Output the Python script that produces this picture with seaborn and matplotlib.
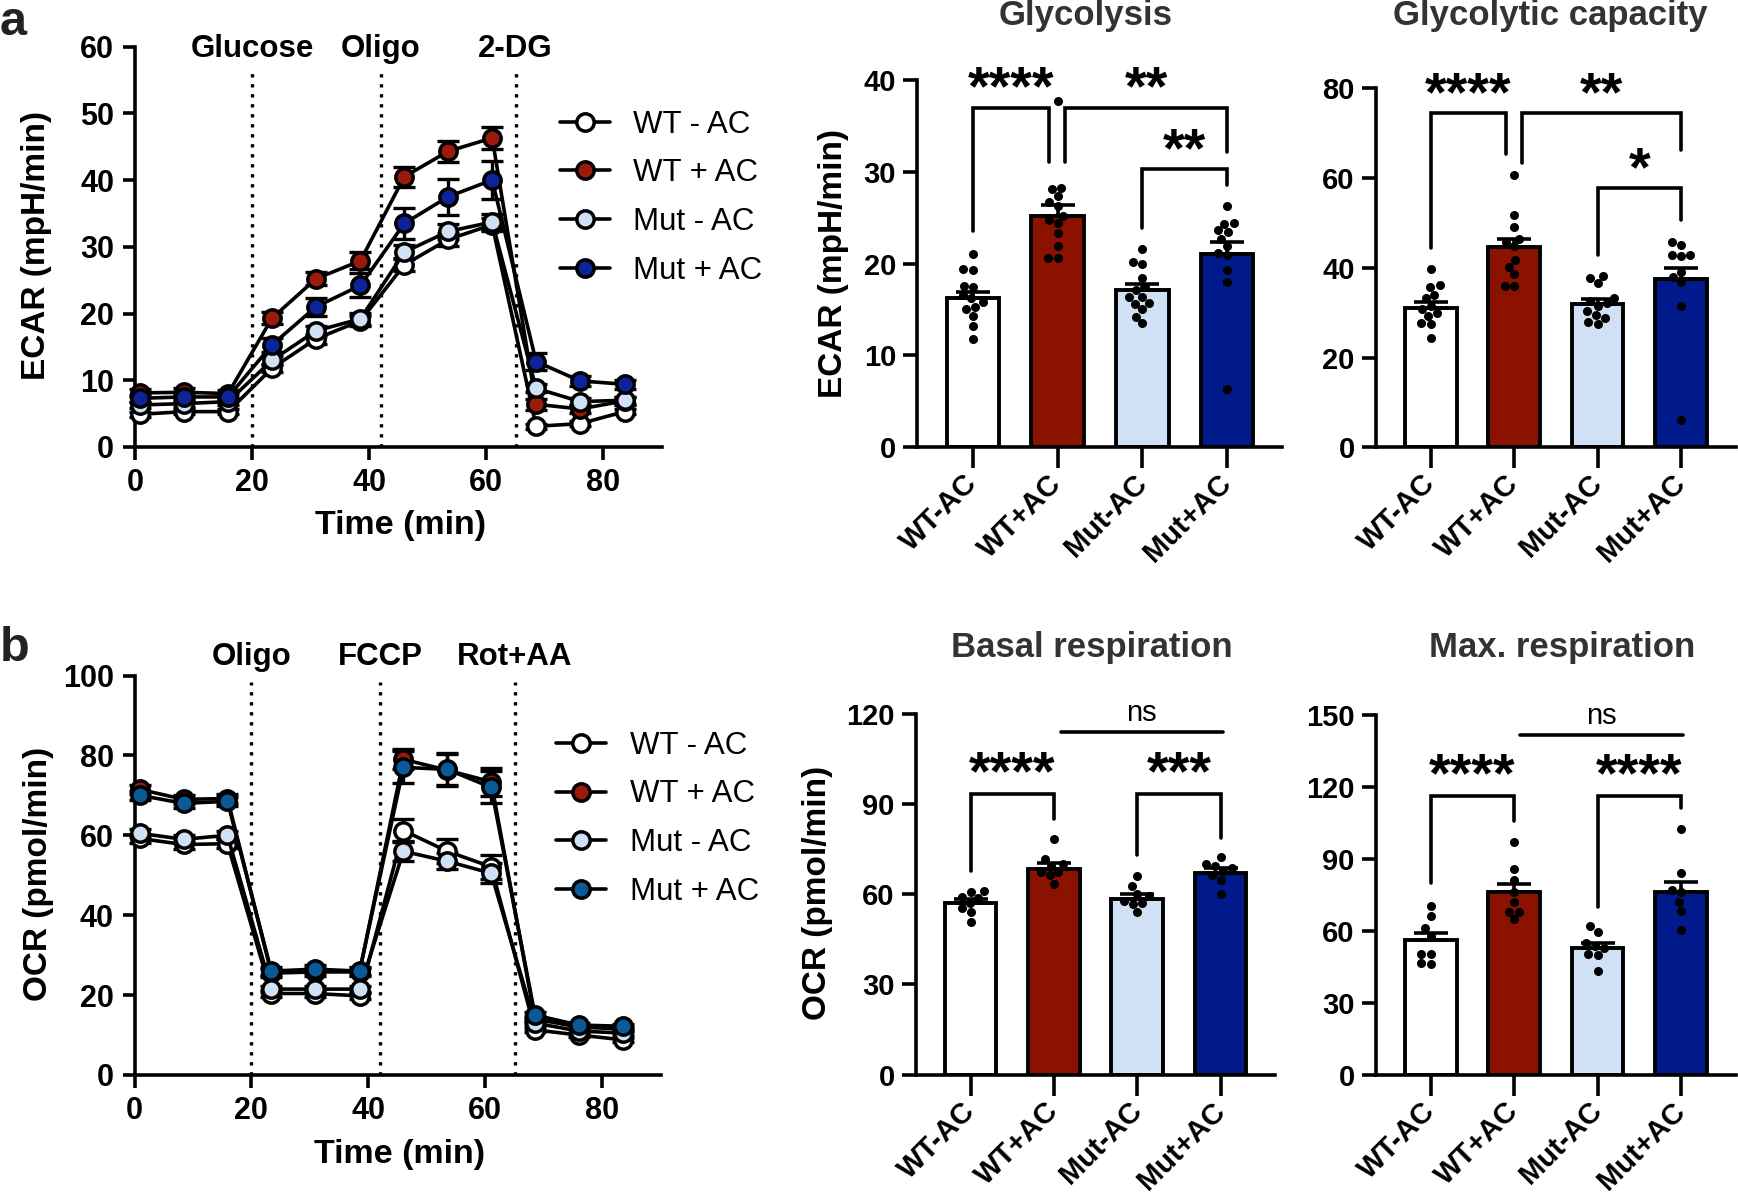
import numpy as np
import pandas as pd
import seaborn as sns
import matplotlib.pyplot as plt

# groups / labels
groups = ['WT-AC', 'WT+AC', 'Mut-AC', 'Mut+AC']
legend_labels = ['WT - AC', 'WT + AC', 'Mut - AC', 'Mut + AC']
bar_colors = ['#ffffff', '#8c1200', '#d0e1f6', '#00198b']
marker_colors_a = ['#ffffff', '#9a1b0c', '#d0e1f6', '#0c2497']
marker_colors_b = ['#ffffff', '#9a1b0c', '#d0e1f6', '#0b5a98']

# Seahorse time course (min)
times = [0.9, 8.4, 15.9, 23.4, 30.9, 38.5, 46.0, 53.5, 61.0, 68.5, 76.0, 83.6]

# ECAR time course, means and SEM
ecar_wt_minus = [4.9, 5.3, 5.3, 11.8, 16.2, 18.9, 27.3, 31.1, 33.3, 3.1, 3.5, 5.3]
ecar_wt_plus = [8.1, 8.2, 8.0, 19.3, 25.2, 27.9, 40.5, 44.3, 46.3, 6.4, 5.7, 6.9]
ecar_mut_minus = [6.3, 6.5, 6.8, 13.0, 17.4, 19.2, 29.2, 32.3, 33.7, 8.8, 6.8, 7.0]
ecar_mut_plus = [7.3, 7.5, 7.5, 15.3, 21.0, 24.2, 33.5, 37.5, 40.0, 12.8, 9.9, 9.4]
ecar_wt_minus_sem = [0.4, 0.4, 0.4, 0.6, 0.7, 0.8, 1.0, 1.0, 1.0, 0.4, 0.4, 0.4]
ecar_wt_plus_sem = [0.6, 0.6, 0.6, 0.9, 1.0, 1.3, 1.5, 1.6, 1.6, 0.8, 0.6, 0.6]
ecar_mut_minus_sem = [0.5, 0.5, 0.5, 0.7, 0.8, 0.9, 1.0, 1.1, 1.2, 0.6, 0.5, 0.5]
ecar_mut_plus_sem = [0.5, 0.5, 0.5, 1.0, 1.3, 1.8, 2.3, 2.7, 2.8, 1.3, 0.8, 0.7]

# OCR time course, means and SEM
ocr_wt_minus = [59.2, 57.7, 57.9, 20.4, 20.4, 19.8, 61.2, 56.0, 52.1, 11.3, 10.0, 8.8]
ocr_wt_plus = [71.5, 69.0, 69.2, 25.5, 25.8, 25.8, 79.0, 76.3, 73.4, 14.0, 12.0, 11.5]
ocr_mut_minus = [60.5, 59.0, 60.0, 21.5, 21.5, 21.5, 56.0, 53.5, 50.5, 13.0, 11.0, 10.5]
ocr_mut_plus = [70.0, 68.0, 68.5, 26.0, 26.5, 26.0, 77.0, 76.5, 72.0, 15.0, 12.5, 12.2]
ocr_wt_minus_sem = [1.2, 1.2, 1.2, 0.8, 0.8, 0.8, 3.0, 3.0, 3.0, 0.5, 0.5, 0.5]
ocr_wt_plus_sem = [1.2, 1.2, 1.2, 1.0, 1.0, 1.0, 2.5, 4.0, 3.5, 0.7, 0.5, 0.5]
ocr_mut_minus_sem = [1.0, 1.0, 1.0, 0.8, 0.8, 0.8, 2.5, 2.0, 2.5, 0.5, 0.5, 0.5]
ocr_mut_plus_sem = [1.2, 1.2, 1.2, 1.0, 1.0, 1.0, 4.0, 4.0, 4.0, 0.7, 0.5, 0.5]

# Glycolysis (ECAR, mpH/min)
gly_means = [16.2, 25.2, 17.1, 21.0]
gly_sems = [0.75, 1.2, 0.7, 1.3]
gly_wt_minus = [21.0, 19.4, 19.3, 17.6, 17.4, 16.6, 16.2, 15.8, 15.3, 15.0, 14.3, 13.2, 11.8]
gly_wt_plus = [37.7, 28.2, 28.1, 27.3, 26.7, 26.2, 25.2, 24.7, 24.4, 23.3, 21.9, 20.6, 20.6]
gly_mut_minus = [21.6, 20.2, 20.0, 18.4, 17.4, 17.1, 16.4, 16.4, 15.7, 15.6, 15.0, 14.2, 13.5]
gly_mut_plus = [26.2, 24.4, 24.3, 23.6, 23.4, 22.7, 21.9, 21.1, 20.9, 19.3, 18.0, 6.3]

# Glycolytic capacity
cap_means = [31.0, 44.5, 32.0, 37.5]
cap_sems = [1.3, 1.8, 1.0, 2.5]
cap_wt_minus = [39.6, 36.1, 35.7, 33.9, 33.2, 31.5, 30.9, 29.9, 29.3, 27.7, 27.4, 24.4]
cap_wt_plus = [60.6, 51.6, 49.1, 46.4, 45.6, 44.7, 41.8, 40.2, 38.5, 35.8, 35.8]
cap_mut_minus = [38.1, 37.6, 36.5, 33.2, 32.6, 32.1, 31.5, 30.3, 29.5, 28.7, 28.0, 27.4]
cap_mut_plus = [45.8, 45.1, 42.8, 42.7, 42.5, 39.0, 37.9, 36.9, 31.5, 6.0]

# Basal respiration (OCR, pmol/min)
bas_means = [57.0, 68.5, 58.5, 67.0]
bas_sems = [1.5, 2.0, 1.5, 1.7]
bas_wt_minus = [61.2, 60.9, 59.0, 58.8, 57.2, 55.4, 54.2, 50.8]
bas_wt_plus = [78.5, 71.8, 70.2, 69.4, 67.5, 67.5, 66.3, 63.6]
bas_mut_minus = [66.1, 62.7, 60.2, 59.3, 57.8, 57.2, 56.8, 54.2]
bas_mut_plus = [72.4, 70.2, 69.4, 68.8, 67.8, 66.3, 64.9, 60.0]

# Max. respiration
max_means = [56.0, 76.0, 53.0, 76.0]
max_sems = [3.0, 3.5, 2.0, 4.5]
max_wt_minus = [70.4, 66.3, 61.0, 58.0, 50.4, 50.4, 46.6, 46.2]
max_wt_plus = [96.8, 85.7, 81.2, 76.2, 72.0, 67.9, 67.9, 64.8]
max_mut_minus = [61.8, 59.5, 54.9, 53.7, 52.6, 50.4, 49.9, 43.2]
max_mut_plus = [102.5, 84.1, 77.0, 76.2, 72.0, 68.3, 60.2]

sns.set_style('ticks')
plt.rcParams['font.family'] = ['Liberation Sans', 'DejaVu Sans']
plt.rcParams['axes.linewidth'] = 2.6
# plain black text and axes, not seaborn's dark gray
for key in ['text.color', 'axes.labelcolor', 'xtick.color', 'ytick.color', 'axes.edgecolor']:
    plt.rcParams[key] = 'black'

W, H = 1738, 1192
fig = plt.figure(figsize=(W / 100, H / 100), dpi=100)


def px_axes(left, top, right, bottom):
    return fig.add_axes([left / W, 1 - bottom / H, (right - left) / W, (bottom - top) / H])


def time_panel(ax, series, sems, fills, ymax, ystep, ylabel, drugs, text_y, line_top, legend_anchor):
    handles = []
    order = [2, 0, 3, 1]
    for i in order:
        ax.errorbar(times, series[i], yerr=sems[i], fmt='none', ecolor='black',
                    elinewidth=2.4, capsize=8, capthick=2.4, zorder=2, clip_on=False)
    for i in order:
        sns.lineplot(x=times, y=series[i], color='black', lw=2.6, marker='o', markersize=12.5,
                     markerfacecolor=fills[i], markeredgecolor='black', markeredgewidth=2.5,
                     sort=False, errorbar=None, ax=ax, zorder=3 + i, clip_on=False)
        handles.append(ax.lines[-1])
    hmap = dict(zip(order, handles))
    ax.legend([hmap[i] for i in range(4)], legend_labels, loc='upper left',
              bbox_to_anchor=legend_anchor, bbox_transform=fig.transFigure, frameon=False,
              fontsize=22.5, handlelength=1.6, handletextpad=0.75, labelspacing=0.6,
              borderpad=0, borderaxespad=0)
    for x, name in drugs:
        ax.vlines(x, 0, line_top, colors='black', linestyles=(0, (1, 2)), lw=2.4, zorder=1)
        ax.text(x, text_y, name, ha='center', va='center', fontsize=22.5, fontweight='bold',
                clip_on=False)
    ax.set_xlim(0, 90)
    ax.set_ylim(0, ymax)
    ax.set_xticks([0, 20, 40, 60, 80])
    ax.set_xticklabels(['0', '20', '40', '60', '80'], fontsize=22, fontweight='bold')
    yt = np.arange(0, ymax + 1, ystep)
    ax.set_yticks(yt)
    ax.set_yticklabels([str(int(v)) for v in yt], fontsize=22, fontweight='bold')
    ax.tick_params(width=2.6, length=9, pad=6)
    ax.set_xlabel('Time (min)', fontsize=24.5, fontweight='bold', va='center')
    ax.xaxis.set_label_coords(0.503, -0.195)
    ax.set_ylabel(ylabel, fontsize=24, fontweight='bold', va='center')
    sns.despine(ax=ax)


def bar_panel(ax, pts, means, sems, ymax, ystep, ylabel, brackets, ns_line, xlim_r):
    df = pd.DataFrame([(g, v) for g, vals in zip(groups, pts) for v in vals],
                      columns=['group', 'value'])
    sns.barplot(x=groups, y=means, hue=groups, palette=bar_colors, saturation=1,
                edgecolor='black', linewidth=2.8, width=0.62, legend=False, errorbar=None,
                ax=ax, zorder=2)
    ax.errorbar(range(4), means, yerr=[np.zeros(4), sems], fmt='none', ecolor='black',
                elinewidth=2.6, capsize=12, capthick=2.6, zorder=3)
    sns.swarmplot(data=df, x='group', y='value', order=groups, color='black', size=6.5,
                  ax=ax, zorder=4)
    for x1, x2, yl, yt, yr, label, ly in brackets:
        ax.plot([x1, x1, x2, x2], [yl, yt, yt, yr], color='black', lw=2.6, clip_on=False,
                solid_joinstyle='miter')
        ax.text((x1 + x2) / 2, ly, label, ha='center', va='center', fontsize=40,
                fontweight='bold', clip_on=False)
    if ns_line is not None:
        x1, x2, y, ly = ns_line
        ax.plot([x1, x2], [y, y], color='black', lw=2.6, clip_on=False)
        ax.text((x1 + x2) / 2, ly, 'ns', ha='center', va='center', fontsize=21, clip_on=False)
    ax.set_xlim(-0.66, xlim_r)
    ax.set_ylim(0, ymax)
    yt = np.arange(0, ymax + 1, ystep)
    ax.set_yticks(yt)
    ax.set_yticklabels([str(int(v)) for v in yt], fontsize=21, fontweight='bold')
    ax.set_xticks(range(4))
    ax.set_xticklabels(groups, rotation=45, ha='right', va='center', rotation_mode='anchor',
                       fontsize=21, fontweight='bold')
    ax.tick_params(axis='y', width=2.6, length=10, pad=5)
    ax.tick_params(axis='x', width=2.6, length=15, pad=8)
    ax.set_xlabel('')
    if ylabel:
        ax.set_ylabel(ylabel, fontsize=24, fontweight='bold', va='center')
    else:
        ax.set_ylabel('')
    sns.despine(ax=ax)


# panel a: ECAR time course
ax_a = px_axes(135, 46.5, 662, 447)
time_panel(ax_a,
           [ecar_wt_minus, ecar_wt_plus, ecar_mut_minus, ecar_mut_plus],
           [ecar_wt_minus_sem, ecar_wt_plus_sem, ecar_mut_minus_sem, ecar_mut_plus_sem],
           marker_colors_a, 60, 10, 'ECAR (mpH/min)',
           [(20, 'Glucose'), (42, 'Oligo'), (65, '2-DG')], 59.7, 56.2, (0.322, 0.908))
ax_a.yaxis.set_label_coords(-0.187, 0.504)

# panel b: OCR time course
ax_b = px_axes(134.5, 675.5, 660.7, 1075)
time_panel(ax_b,
           [ocr_wt_minus, ocr_wt_plus, ocr_mut_minus, ocr_mut_plus],
           [ocr_wt_minus_sem, ocr_wt_plus_sem, ocr_mut_minus_sem, ocr_mut_plus_sem],
           marker_colors_b, 100, 20, 'OCR (pmol/min)',
           [(20, 'Oligo'), (42, 'FCCP'), (65, 'Rot+AA')], 104.6, 98.4, (0.320, 0.387))
ax_b.yaxis.set_label_coords(-0.182, 0.503)
ax_b.xaxis.set_label_coords(0.503, -0.2)

# bar panels
ax_gly = px_axes(917, 79.6, 1282, 447.4)
bar_panel(ax_gly, [gly_wt_minus, gly_wt_plus, gly_mut_minus, gly_mut_plus], gly_means, gly_sems,
          40, 10, 'ECAR (mpH/min)',
          [(0, 0.9, 23.5, 36.9, 31.0, '****', 38.8),
           (1.09, 3, 31.0, 36.9, 32.1, '**', 38.8),
           (2, 3, 23.9, 30.3, 28.5, '**', 32.1)], None, 3.65)
ax_gly.yaxis.set_label_coords(-0.229, 0.501)

ax_cap = px_axes(1375.6, 87.8, 1736, 447.4)
bar_panel(ax_cap, [cap_wt_minus, cap_wt_plus, cap_mut_minus, cap_mut_plus], cap_means, cap_sems,
          80, 20, None,
          [(0, 0.9, 44.3, 74.4, 65.3, '****', 78.2),
           (1.09, 3, 63.3, 74.4, 66.1, '**', 78.2),
           (2, 3, 42.7, 57.7, 50.5, '*', 61.5)], None, 3.66)

ax_bas = px_axes(915.6, 714.1, 1274.8, 1074.6)
bar_panel(ax_bas, [bas_wt_minus, bas_wt_plus, bas_mut_minus, bas_mut_plus], bas_means, bas_sems,
          120, 30, 'OCR (pmol/min)',
          [(0, 1, 67.8, 93.4, 85.1, '****', 99.5),
           (2, 3, 73.0, 93.4, 78.8, '***', 99.5)], (1.08, 3.03, 114.2, 120.4), 3.65)
ax_bas.yaxis.set_label_coords(-0.272, 0.504)

ax_max = px_axes(1375.6, 714.9, 1736, 1074.6)
bar_panel(ax_max, [max_wt_minus, max_wt_plus, max_mut_minus, max_mut_plus], max_means, max_sems,
          150, 30, None,
          [(0, 1, 79.7, 116.2, 105.9, '****', 124.0),
           (2, 3, 70.1, 116.2, 111.2, '****', 124.0)], (1.07, 3.02, 141.5, 149.7), 3.66)

# titles and panel letters
title_kw = dict(ha='center', va='center', fontsize=25, fontweight='bold', color='#333333')
fig.text(1086 / W, 1 - 16 / H, 'Glycolysis', **title_kw)
fig.text(1550 / W, 1 - 16 / H, 'Glycolytic capacity', **title_kw)
fig.text(1092 / W, 1 - 647 / H, 'Basal respiration', **title_kw)
fig.text(1562 / W, 1 - 647 / H, 'Max. respiration', **title_kw)
fig.text(0.0, 1.0, 'a', ha='left', va='top', fontsize=35, fontweight='bold', color='#222222')
fig.text(0.0, 1 - 626 / H, 'b', ha='left', va='top', fontsize=35, fontweight='bold', color='#222222')

fig.savefig('out.png', dpi=100)
